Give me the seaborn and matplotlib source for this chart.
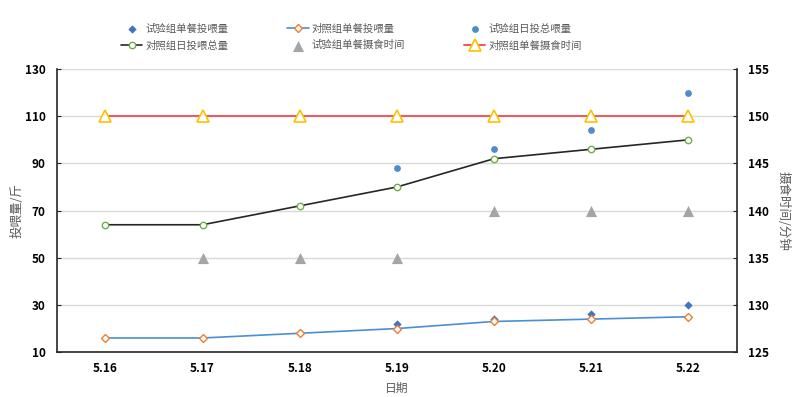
import numpy as np
import pandas as pd
import matplotlib
matplotlib.use('Agg')
import matplotlib.pyplot as plt
import seaborn as sns
from matplotlib.ticker import FixedLocator

# data
dates = ['5.16', '5.17', '5.18', '5.19', '5.20', '5.21', '5.22']
test_meal = [np.nan, np.nan, np.nan, 22, 24, 26, 30]        # 试验组单餐投喂量
ctrl_meal = [16, 16, 18, 20, 23, 24, 25]                    # 对照组单餐投喂量
test_day = [np.nan, np.nan, np.nan, 88, 96, 104, 120]       # 试验组日投总喂量
ctrl_day = [64, 64, 72, 80, 92, 96, 100]                    # 对照组日投喂总量
test_time = [np.nan, 135, 135, 135, 140, 140, 140]          # 试验组单餐摄食时间
ctrl_time = [150, 150, 150, 150, 150, 150, 150]             # 对照组单餐摄食时间

df = pd.DataFrame({'x': range(len(dates)), 'date': dates,
                   'test_meal': test_meal, 'ctrl_meal': ctrl_meal,
                   'test_day': test_day, 'ctrl_day': ctrl_day,
                   'test_time': test_time, 'ctrl_time': ctrl_time})

sns.set_style('white')
plt.rcParams['font.family'] = ['Noto Sans CJK SC', 'DejaVu Sans']

fig, ax = plt.subplots(figsize=(8, 3.97), dpi=100)
fig.subplots_adjust(left=0.071, right=0.921, top=0.826, bottom=0.113)
ax2 = ax.twinx()

grey_txt = '#595959'

sns.scatterplot(data=df, x='x', y='test_meal', ax=ax, marker='D', s=18,
                color='#4472C4', edgecolor='#4472C4', linewidth=0, zorder=3,
                label='试验组单餐投喂量', legend=False)
sns.lineplot(data=df, x='x', y='ctrl_meal', ax=ax, color='#4A8FD4', lw=1.2,
             marker='D', markersize=4.3, markerfacecolor='white',
             markeredgecolor='#ED7D31', markeredgewidth=1.0, zorder=4,
             label='对照组单餐投喂量', legend=False)
sns.scatterplot(data=df, x='x', y='test_day', ax=ax, marker='o', s=24,
                color='#4E8CCB', edgecolor='#4E8CCB', linewidth=0, zorder=3,
                label='试验组日投总喂量', legend=False)
sns.lineplot(data=df, x='x', y='ctrl_day', ax=ax, color='#262626', lw=1.2,
             marker='o', markersize=4.6, markerfacecolor='white',
             markeredgecolor='#70AD47', markeredgewidth=1.0, zorder=4,
             label='对照组日投喂总量', legend=False)
sns.scatterplot(data=df, x='x', y='test_time', ax=ax2, marker='^', s=65,
                color='#A5A5A5', edgecolor='#A5A5A5', linewidth=0, zorder=3,
                label='试验组单餐摄食时间', legend=False)
sns.lineplot(data=df, x='x', y='ctrl_time', ax=ax2, color='#F4555A', lw=1.4,
             marker='^', markersize=8.5, markerfacecolor='white',
             markeredgecolor='#FFC000', markeredgewidth=1.2, zorder=4,
             label='对照组单餐摄食时间', legend=False)

ax.set_xlim(-0.5, len(dates) - 0.5)
ax.set_ylim(10, 130)
ax.set_yticks(range(10, 131, 20))
ax2.set_ylim(125, 155)
ax2.set_yticks(range(125, 156, 5))

ax.set_xticks(df['x'])
ax.set_xticklabels(dates)
ax.xaxis.set_minor_locator(FixedLocator(np.arange(0.5, len(dates) - 1, 1)))
ax.tick_params(axis='x', which='major', length=0, pad=7)
ax.tick_params(axis='x', which='minor', direction='in', length=4, width=1, color='#262626')
ax.tick_params(axis='y', direction='in', length=3, color='#262626', pad=8)
ax2.tick_params(axis='y', direction='in', length=3, color='#262626', pad=8)

for a in (ax, ax2):
    for lab in a.get_xticklabels() + a.get_yticklabels():
        lab.set_fontweight('bold')
        lab.set_fontsize(8.5)
        lab.set_color('#000000')
    for s in a.spines.values():
        s.set_visible(False)

ax.spines['left'].set_visible(True)
ax.spines['bottom'].set_visible(True)
ax2.spines['right'].set_visible(True)
for s in (ax.spines['left'], ax.spines['bottom'], ax2.spines['right']):
    s.set_color('#262626')
    s.set_linewidth(1.2)

ax.yaxis.grid(True, color='#D9D9D9', lw=1)
ax.set_axisbelow(True)

ax.set_xlabel('日期', fontsize=8.5, color=grey_txt, labelpad=5)
ax.set_ylabel('投喂量/斤', fontsize=9, color=grey_txt, labelpad=1)
ax2.set_ylabel('摄食时间/分钟', fontsize=9, color=grey_txt, rotation=270, labelpad=15)

h1, l1 = ax.get_legend_handles_labels()
h2, l2 = ax2.get_legend_handles_labels()
hs = h1 + h2
ls = l1 + l2
order = [0, 3, 1, 4, 2, 5]
fig.legend([hs[i] for i in order], [ls[i] for i in order], ncol=3,
           loc='upper left', bbox_to_anchor=(0.139, 0.965), frameon=False,
           fontsize=7.5, labelcolor=grey_txt, columnspacing=5.6,
           handlelength=2.1, handletextpad=0.3, labelspacing=0.65)

fig.savefig('out.png', dpi=100)
